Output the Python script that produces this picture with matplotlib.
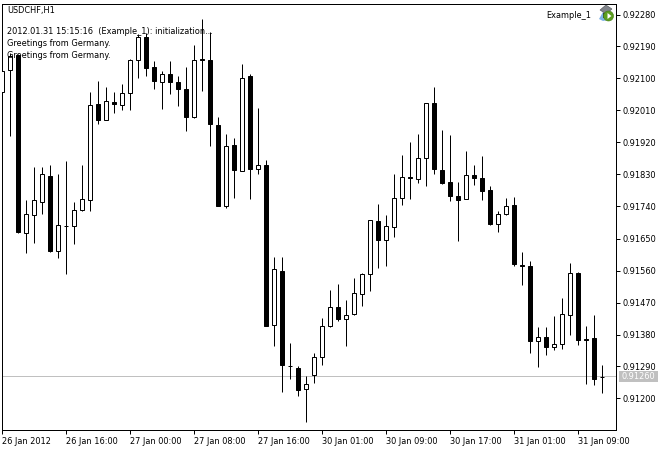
import numpy as np
import matplotlib
matplotlib.use('Agg')
import matplotlib.pyplot as plt
from matplotlib.patches import Circle, Polygon, Rectangle

plt.rcParams['font.family'] = ['DejaVu Sans']
plt.rcParams['font.stretch'] = 'condensed'

# hourly USDCHF bars, in 1e-5 price points
opens = [92063, 92124, 92165, 91665, 91717, 91752, 91827, 91616, 91684, 91684,
         91729, 91759, 92027, 91984, 92035, 92026, 92060, 92153, 92216, 92131,
         92090, 92113, 92091, 92071, 91992, 92154, 92153, 91970, 91741, 91912,
         91840, 92106, 91845, 91858, 91407, 91560, 91291, 91287, 91227, 91267,
         91317, 91404, 91456, 91424, 91438, 91493, 91551, 91698, 91645, 91682,
         91763, 91823, 91817, 91877, 92030, 91843, 91809, 91770, 91762, 91829,
         91821, 91785, 91691, 91718, 91745, 91575, 91574, 91362, 91374, 91344,
         91353, 91435, 91554, 91366, 91369, 91260]
highs = [92156, 92173, 92170, 91757, 91852, 91852, 91858, 91830, 91869, 91754,
         91858, 92061, 92092, 92075, 92063, 92085, 92154, 92224, 92227, 92150,
         92122, 92148, 92108, 92131, 92195, 92266, 92232, 91993, 91945, 91934,
         92142, 92114, 92016, 91872, 91599, 91599, 91355, 91290, 91262, 91327,
         91425, 91506, 91523, 91478, 91540, 91553, 91703, 91748, 91717, 91830,
         91886, 91920, 91945, 92032, 92077, 91956, 91942, 91809, 91895, 91858,
         91883, 91799, 91726, 91765, 91768, 91613, 91588, 91400, 91402, 91431,
         91484, 91580, 91557, 91405, 91436, 91293]
lows = [91982, 91938, 91665, 91609, 91637, 91718, 91611, 91595, 91550, 91634,
        91726, 91727, 91971, 91982, 92002, 92011, 92011, 92102, 92108, 92070,
        92014, 92056, 92022, 91951, 91988, 92064, 91910, 91741, 91737, 91763,
        91840, 91761, 91831, 91403, 91347, 91218, 91254, 91206, 91133, 91243,
        91294, 91402, 91417, 91347, 91436, 91460, 91501, 91566, 91572, 91653,
        91744, 91761, 91806, 91797, 91831, 91803, 91755, 91642, 91760, 91800,
        91758, 91689, 91668, 91715, 91572, 91519, 91327, 91288, 91322, 91336,
        91339, 91378, 91350, 91240, 91237, 91215]
closes = [92122, 92163, 91668, 91720, 91757, 91830, 91614, 91687, 91685, 91729,
          91762, 92026, 91983, 92038, 92028, 92060, 92153, 92216, 92129, 92092,
          92113, 92090, 92070, 91991, 92153, 92153, 91971, 91741, 91909, 91842,
          92102, 91845, 91857, 91403, 91565, 91294, 91290, 91223, 91241, 91317,
          91404, 91458, 91424, 91435, 91497, 91551, 91701, 91645, 91686, 91764,
          91824, 91821, 91877, 92030, 91845, 91806, 91769, 91758, 91829, 91820,
          91783, 91690, 91718, 91742, 91578, 91574, 91361, 91374, 91344, 91354,
          91438, 91554, 91364, 91365, 91254, 91260]

price_ticks = [0.92280, 0.92190, 0.92100, 0.92010, 0.91920, 0.91830, 0.91740,
               0.91650, 0.91560, 0.91470, 0.91380, 0.91290, 0.91200]
time_ticks = [0, 8, 16, 24, 32, 40, 48, 56, 64, 72]
time_labels = ['26 Jan 2012', '26 Jan 16:00', '27 Jan 00:00', '27 Jan 08:00', '27 Jan 16:00',
               '30 Jan 01:00', '30 Jan 09:00', '30 Jan 17:00', '31 Jan 01:00', '31 Jan 09:00']
bid = 0.91262
bid_label = '0.91260'

W, H = 660, 449
PX = 0.72   # one pixel in points at dpi 100
GREY = '#c0c0c0'
FS = 6.6


def main() -> None:
    fig = plt.figure(figsize=(W / 100, H / 100), dpi=100)
    ax = fig.add_axes([2.0 / W, (H - 429.5) / H, 614 / W, 426 / H])

    o = np.array(opens) / 1e5
    h = np.array(highs) / 1e5
    l = np.array(lows) / 1e5
    c = np.array(closes) / 1e5
    x = np.arange(len(o))

    ax.axhline(bid, color=GREY, lw=PX, zorder=1)
    ax.vlines(x, l, h, color='k', lw=PX, zorder=2)
    up = c >= o
    ax.bar(x[up], (c - o)[up], bottom=o[up], width=0.5, facecolor='w', edgecolor='k', lw=PX, zorder=3)
    ax.bar(x[~up], (c - o)[~up], bottom=o[~up], width=0.5, facecolor='k', edgecolor='k', lw=PX, zorder=3)

    ax.set_xlim(0, 76.75)
    ax.set_ylim(0.9228 - 415 * 0.0009 / 32, 0.9228 + 11 * 0.0009 / 32)

    for s in ax.spines.values():
        s.set_linewidth(PX)
    ax.yaxis.tick_right()
    ax.set_yticks(price_ticks)
    ax.set_yticklabels(['%.5f' % p for p in price_ticks])
    ax.set_xticks(time_ticks)
    ax.set_xticklabels(time_labels, ha='left')
    ax.tick_params(axis='both', length=2.9, width=PX, labelsize=FS, pad=1.5)
    ax.tick_params(axis='x', pad=2.5)

    # texts and the label box in pixel positions
    def put(px, py, s, **kw):
        fig.text(px / W, (H - py) / H, s, fontsize=FS, va='center', zorder=1, **kw)

    put(7, 10, 'USDCHF,H1')
    put(7, 32, '2012.01.31 15:15:16  (Example_1): initialization...')
    put(7, 44, 'Greetings from Germany.')
    put(7, 55, 'Greetings from Germany.')
    put(591, 15, 'Example_1', ha='right')

    fig.add_artist(Rectangle((619 / W, (H - 382) / H), 39 / W, 11 / H, transform=fig.transFigure,
                             facecolor=GREY, edgecolor='none'))
    put(622, 376.5, bid_label, color='w')

    # expert icon: hat, blue base, green badge
    def icon_poly(pts, **kw):
        fig.add_artist(Polygon([(a, H - b) for a, b in pts], closed=True, transform=None, **kw))

    icon_poly([(599, 19), (603, 12), (608, 20), (603, 21)], facecolor='#7fb2e5', edgecolor='none', zorder=4)
    icon_poly([(600, 10), (606, 5), (612, 9), (606, 14)], facecolor='#80848a', edgecolor='#4a4d52', lw=0.4, zorder=5)
    icon_poly([(603, 13), (609, 13), (608, 18), (603, 18)], facecolor='#3c3f44', edgecolor='none', zorder=5)
    fig.add_artist(Circle((608.5, H - 16), 5, transform=None, facecolor='#5c9e1e', edgecolor='#3f7a10', lw=0.4, zorder=6))
    icon_poly([(607.5, 13), (607.5, 19), (611.5, 16)], facecolor='w', edgecolor='none', zorder=7)

    ax.patch.set_alpha(0)
    fig.savefig('out.png', dpi=100)


if __name__ == '__main__':
    main()
